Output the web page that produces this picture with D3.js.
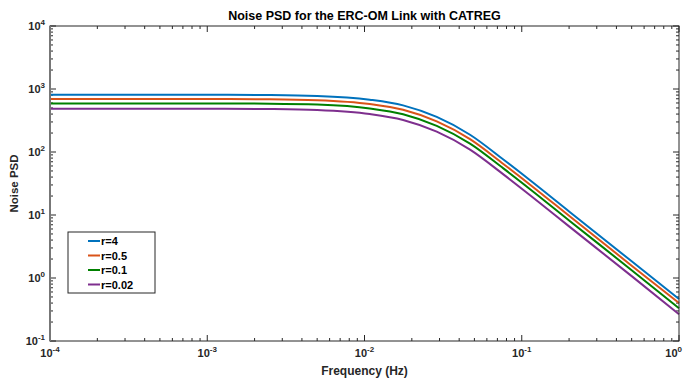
<!DOCTYPE html>
<html>
<head>
<meta charset="utf-8">
<script src="https://cdn.jsdelivr.net/npm/d3@7.9.0/dist/d3.min.js"></script>
<style>
  body { margin: 0; background: #fff; }
  svg { display: block; font-family: "Liberation Sans", Arial, sans-serif; }
</style>
</head>
<body>
<svg id="chart" width="683" height="379"></svg>
<script>
const freq = [1e-4, 1e-3, 2.5e-3, 5e-3, 0.0108, 0.0176, 0.0288, 0.0469, 0.0764, 0.113, 0.2, 0.5, 1];

// PSD values for each r
const psdR4   = [812, 812, 803, 777, 676, 550, 360, 188, 76, 35.6, 11.4, 1.84, 0.465];
const psdR05  = [694, 694, 687, 664, 578, 468, 306, 160, 64.6, 30.3, 9.7, 1.57, 0.40];
const psdR01  = [591, 591, 585, 566, 492, 398, 260, 136, 54.9, 25.7, 8.2, 1.33, 0.33];
const psdR002 = [488, 488, 481, 463, 400, 322, 210, 109, 44.1, 20.6, 6.6, 1.07, 0.265];

const seriesNames = ['r=4', 'r=0.5', 'r=0.1', 'r=0.02'];
const seriesColors = ['#0072BD', '#D95319', '#008000', '#7E2F8E'];
const seriesData = [psdR4, psdR05, psdR01, psdR002];

const xTickExps = [-4, -3, -2, -1, 0];
const yTickExps = [-1, 0, 1, 2, 3, 4];

const margin = {top: 26, right: 4, bottom: 38, left: 50};
const width = 679 - margin.left;
const height = 341 - margin.top;

const svg = d3.select('#chart');
const g = svg.append('g').attr('transform', `translate(${margin.left},${margin.top})`);

const x = d3.scaleLog().domain([1e-4, 1]).range([0, width]);
const y = d3.scaleLog().domain([0.1, 1e4]).range([height, 0]);

const axisColor = '#262626';

// minor + major ticks on all four sides (pointing inward)
const minorVals = (lo, hi) => {
  const out = [];
  for (let e = lo; e < hi; e++) {
    for (let k = 2; k <= 9; k++) out.push(k * Math.pow(10, e));
  }
  return out;
};
const xMinor = minorVals(-4, 0);
const yMinor = minorVals(-1, 4);

const ticks = g.append('g').attr('stroke', axisColor).attr('stroke-width', 1);
xMinor.forEach(v => {
  ticks.append('line').attr('x1', x(v)).attr('x2', x(v)).attr('y1', height).attr('y2', height - 3);
  ticks.append('line').attr('x1', x(v)).attr('x2', x(v)).attr('y1', 0).attr('y2', 3);
});
xTickExps.forEach(e => {
  const v = Math.pow(10, e);
  ticks.append('line').attr('x1', x(v)).attr('x2', x(v)).attr('y1', height).attr('y2', height - 6);
  ticks.append('line').attr('x1', x(v)).attr('x2', x(v)).attr('y1', 0).attr('y2', 6);
});
yMinor.forEach(v => {
  ticks.append('line').attr('x1', 0).attr('x2', 3).attr('y1', y(v)).attr('y2', y(v));
  ticks.append('line').attr('x1', width).attr('x2', width - 3).attr('y1', y(v)).attr('y2', y(v));
});
yTickExps.forEach(e => {
  const v = Math.pow(10, e);
  ticks.append('line').attr('x1', 0).attr('x2', 6).attr('y1', y(v)).attr('y2', y(v));
  ticks.append('line').attr('x1', width).attr('x2', width - 6).attr('y1', y(v)).attr('y2', y(v));
});

// curves
const line = d3.line()
  .x(d => x(d[0]))
  .y(d => y(d[1]))
  .curve(d3.curveMonotoneX);

seriesData.forEach((vals, i) => {
  g.append('path')
    .datum(freq.map((f, j) => [f, vals[j]]))
    .attr('fill', 'none')
    .attr('stroke', seriesColors[i])
    .attr('stroke-width', 2)
    .attr('d', line);
});

// box
g.append('rect')
  .attr('x', 0).attr('y', 0).attr('width', width).attr('height', height)
  .attr('fill', 'none').attr('stroke', axisColor).attr('stroke-width', 1);
g.append('line').attr('x1', 0).attr('x2', 0).attr('y1', 0).attr('y2', height)
  .attr('stroke', '#777').attr('stroke-width', 2);

// tick labels as 10^n
function powLabel(sel, e) {
  sel.append('tspan').text('10');
  sel.append('tspan').attr('dy', -5).attr('font-size', 8).text(e);
}

xTickExps.forEach((e, i) => {
  const last = i === xTickExps.length - 1;
  const t = g.append('text')
    .attr('x', last ? width + 3 : x(Math.pow(10, e)))
    .attr('y', height + 16)
    .attr('text-anchor', last ? 'end' : 'middle')
    .attr('font-size', 11).attr('font-weight', 'bold').attr('fill', axisColor);
  powLabel(t, e);
});

yTickExps.forEach(e => {
  const t = g.append('text')
    .attr('x', -5)
    .attr('y', y(Math.pow(10, e)) + 4)
    .attr('text-anchor', 'end')
    .attr('font-size', 11).attr('font-weight', 'bold').attr('fill', axisColor);
  powLabel(t, e);
});

// titles
svg.append('text')
  .attr('x', margin.left + width / 2).attr('y', 20)
  .attr('text-anchor', 'middle')
  .attr('font-size', 12.5).attr('font-weight', 'bold').attr('fill', '#000')
  .text('Noise PSD for the ERC-OM Link with CATREG');

svg.append('text')
  .attr('x', margin.left + width / 2).attr('y', 375)
  .attr('text-anchor', 'middle')
  .attr('font-size', 12).attr('font-weight', 'bold').attr('fill', axisColor)
  .text('Frequency (Hz)');

svg.append('text')
  .attr('transform', `translate(18,${margin.top + height / 2}) rotate(-90)`)
  .attr('text-anchor', 'middle')
  .attr('font-size', 11.5).attr('font-weight', 'bold').attr('fill', axisColor)
  .text('Noise PSD');

// legend
const legend = svg.append('g');
legend.append('rect')
  .attr('x', 68).attr('y', 232).attr('width', 87).attr('height', 61)
  .attr('fill', '#fff').attr('stroke', axisColor).attr('stroke-width', 1);
seriesNames.forEach((name, i) => {
  const ly = 241 + i * 14.5;
  legend.append('line')
    .attr('x1', 88).attr('x2', 100).attr('y1', ly).attr('y2', ly)
    .attr('stroke', seriesColors[i]).attr('stroke-width', 2);
  legend.append('text')
    .attr('x', 101).attr('y', ly + 4)
    .attr('font-size', 11).attr('font-weight', 'bold').attr('fill', '#000')
    .text(name);
});
</script>
</body>
</html>
